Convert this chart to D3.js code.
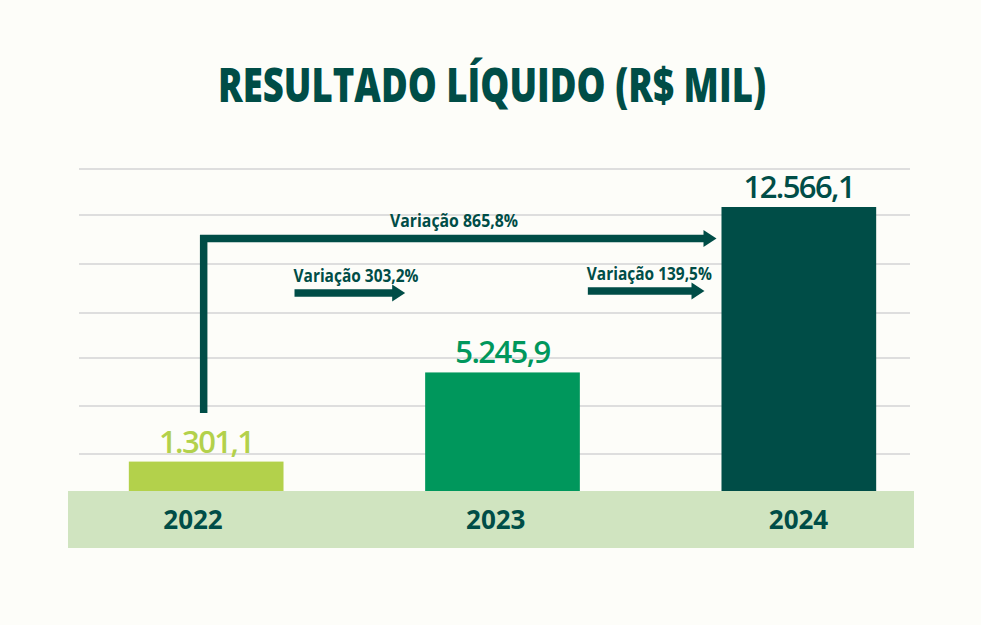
<!DOCTYPE html>
<html>
<head>
<meta charset="utf-8">
<script src="https://cdn.jsdelivr.net/npm/d3@7/dist/d3.min.js"></script>
<style>
  html, body { margin: 0; padding: 0; background: #fdfdf9; }
  svg { display: block; font-family: "Open Sans", "Noto Sans", sans-serif; }
</style>
</head>
<body>
<svg id="chart" width="981" height="625"></svg>
<script>
// ---- data ----
const title = "RESULTADO LÍQUIDO (R$ MIL)";
const years = ["2022", "2023", "2024"];
const values = [1301.1, 5245.9, 12566.1];
const valueLabels = ["1.301,1", "5.245,9", "12.566,1"];
const barColors = ["#b3d14b", "#00975c", "#004d47"];
const gridValues = [1637, 3761, 5885, 7876, 10044, 12212, 14248];
const variations = [
  { from: "2022", to: "2023", label: "Variação 303,2%" },
  { from: "2023", to: "2024", label: "Variação 139,5%" },
  { from: "2022", to: "2024", label: "Variação 865,8%" }
];

const dark = "#004d47";
const svg = d3.select("#chart");

svg.append("rect").attr("width", 981).attr("height", 625).attr("fill", "#fdfdf9");

const x = d3.scaleBand().domain(years).range([58, 947]).paddingInner(0.478).paddingOuter(0.239);
const xLabel = d3.scalePoint().domain(years).range([193, 798.5]);
const y = d3.scaleLinear().domain([0, values[2]]).range([491, 207]);
const bw = x.bandwidth();

// title
svg.append("text")
  .attr("x", 492).attr("y", 102)
  .attr("text-anchor", "middle")
  .attr("font-size", 48).attr("font-weight", 800)
  .attr("fill", dark)
  .attr("textLength", 548).attr("lengthAdjust", "spacingAndGlyphs")
  .text(title);

// gridlines
svg.append("g").selectAll("line").data(gridValues).join("line")
  .attr("x1", 79).attr("x2", 910)
  .attr("y1", d => y(d)).attr("y2", d => y(d))
  .attr("stroke", "#dedede").attr("stroke-width", 2);

// axis band
svg.append("rect")
  .attr("x", 68).attr("y", y(0)).attr("width", 846).attr("height", 57)
  .attr("fill", "#d0e4c0");

// bars
svg.append("g").selectAll("rect").data(years).join("rect")
  .attr("x", d => x(d)).attr("width", bw)
  .attr("y", (d, i) => y(values[i]))
  .attr("height", (d, i) => y(0) - y(values[i]))
  .attr("fill", (d, i) => barColors[i]);

// value labels
svg.append("g").selectAll("text").data(years).join("text")
  .attr("x", d => x(d) + bw / 2)
  .attr("y", (d, i) => y(values[i]) - 9)
  .attr("text-anchor", "middle")
  .attr("font-size", 31).attr("font-weight", 600)
  .attr("letter-spacing", -1.6)
  .attr("fill", (d, i) => barColors[i])
  .text((d, i) => valueLabels[i]);

// year labels
svg.append("g").selectAll("text").data(years).join("text")
  .attr("x", d => xLabel(d))
  .attr("y", 529)
  .attr("text-anchor", "middle")
  .attr("font-size", 26).attr("font-weight", 700)
  .attr("fill", dark)
  .text(d => d);

// arrows
function head(g, tipX, cy) {
  g.append("path")
    .attr("d", `M${tipX - 13},${cy - 8.5} L${tipX},${cy} L${tipX - 13},${cy + 8.5} Z`)
    .attr("fill", dark);
}
const ag = svg.append("g");

// short arrows
const shortY = [293, 291];
variations.slice(0, 2).forEach((v, i) => {
  const x0 = x(v.from) + bw + (i === 0 ? 11 : 8);
  const tip = x(v.to) - (i === 0 ? 20 : 17);
  const cy = shortY[i];
  ag.append("line").attr("x1", x0).attr("x2", tip - 12).attr("y1", cy).attr("y2", cy)
    .attr("stroke", dark).attr("stroke-width", 7.5);
  head(ag, tip, cy);
  ag.append("text")
    .attr("x", x0 - 1).attr("y", cy - 11)
    .attr("font-size", 18).attr("font-weight", 700)
    .attr("fill", dark)
    .attr("textLength", 125).attr("lengthAdjust", "spacingAndGlyphs")
    .text(v.label);
});

// long arrow
{
  const v = variations[2];
  const x0 = x(v.from) + bw / 2 - 2.5;
  const tip = x(v.to) - 5;
  const cy = 238.5;
  ag.append("path")
    .attr("d", `M${x0},413 V${cy} H${tip - 12}`)
    .attr("fill", "none").attr("stroke", dark).attr("stroke-width", 7.5)
    .attr("stroke-linejoin", "miter");
  head(ag, tip, cy);
  ag.append("text")
    .attr("x", 454).attr("y", 227)
    .attr("text-anchor", "middle")
    .attr("font-size", 18).attr("font-weight", 700)
    .attr("fill", dark)
    .attr("textLength", 128).attr("lengthAdjust", "spacingAndGlyphs")
    .text(v.label);
}
</script>
</body>
</html>
